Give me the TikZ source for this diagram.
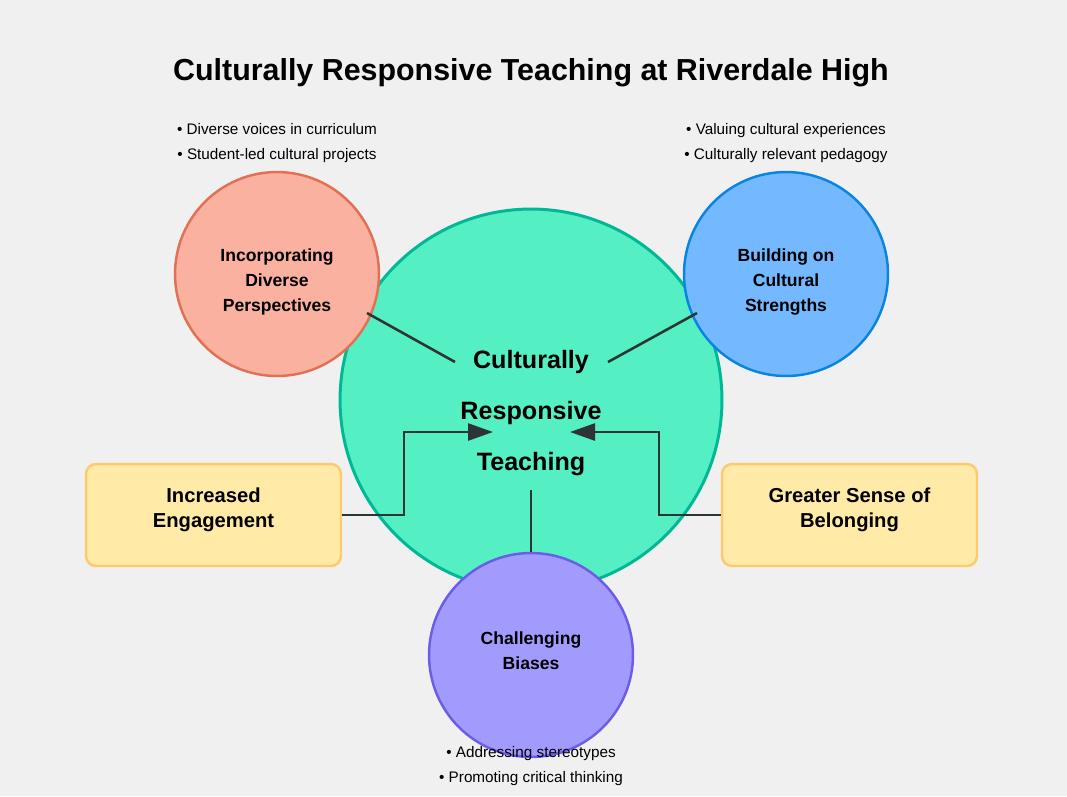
\documentclass[tikz,border=0pt]{standalone}
\usepackage{fontspec}
\setmainfont{Liberation Sans}
\usetikzlibrary{arrows.meta,calc,positioning}
\definecolor{cbg}{RGB}{240,240,240}
\definecolor{cline}{RGB}{45,52,54}
\definecolor{cmainf}{RGB}{85,239,196}
\definecolor{cmaind}{RGB}{0,184,148}
\definecolor{cpinkf}{RGB}{250,177,160}
\definecolor{cpinkd}{RGB}{225,112,85}
\definecolor{cbluef}{RGB}{116,185,255}
\definecolor{cblued}{RGB}{9,132,227}
\definecolor{cpurpf}{RGB}{162,155,254}
\definecolor{cpurpd}{RGB}{108,92,231}
\definecolor{cyelf}{RGB}{255,234,167}
\definecolor{cyeld}{RGB}{253,203,110}

\begin{document}
\begin{tikzpicture}[
  x=0.02cm, y=-0.02cm,
  >={Triangle[length=0.5cm,width=0.34cm]},
  conn/.style={cline,line width=1.45pt},
  hub/.style={circle,draw=cmaind,fill=cmainf,line width=1.7pt,minimum size=7.64cm,inner sep=0pt},
  spoke/.style={circle,line width=1.4pt,minimum size=4.08cm,inner sep=0pt},
  spoketext/.style={align=center,font=\bfseries\fontsize{10}{14.2}\selectfont},
  outcome/.style={rectangle,rounded corners=0.2cm,draw=cyeld,fill=cyelf,line width=1.4pt,minimum width=5.1cm,minimum height=2.04cm},
  outcometext/.style={align=center,font=\bfseries\fontsize{11.5}{14.2}\selectfont},
  notes/.style={align=center,font=\fontsize{8.7}{14.5}\selectfont},
]

% ============================ background and title ============================
\fill[cbg] (0,0) rectangle (1067,796);
\useasboundingbox (0,0) rectangle (1067,796);
\node[font=\bfseries\fontsize{17.3}{20}\selectfont] (title) at (531,73) {Culturally Responsive Teaching at Riverdale High};

% ============================ central hub ============================
\node[hub] (crt) at (531,400) {};
\node[align=center,font=\bfseries\fontsize{14.3}{29}\selectfont] (crtlabel) at (531,413) {Culturally\\Responsive\\Teaching};

% ============================ the three strategies ============================
\node[spoke,draw=cpinkd,fill=cpinkf] (diverse) at (277,274) {};
\node[spoke,draw=cblued,fill=cbluef] (strengths) at (786,274) {};
\node[spoke,draw=cpurpd,fill=cpurpf] (biases) at (531,655) {};
\node[spoketext] (diverselabel) at (277,282) {Incorporating\\Diverse\\Perspectives};
\node[spoketext] (strengthslabel) at (786,282) {Building on\\Cultural\\Strengths};
\node[spoketext] (biaseslabel) at (531,651) {Challenging\\Biases};

% bullet notes next to each strategy
\node[notes] (diversenotes) at (277,143) {• Diverse voices in curriculum\\• Student-led cultural projects};
\node[notes] (strengthsnotes) at (786,143) {• Valuing cultural experiences\\• Culturally relevant pedagogy};
\node[notes] (biasesnotes) at (531,766) {• Addressing stereotypes\\• Promoting critical thinking};

% ============================ the two outcomes ============================
\node[outcome] (engage) at (213.5,515) {};
\node[outcome] (belong) at (849.5,515) {};
\node[outcometext] (engagelabel) at (213.5,510) {Increased\\Engagement};
\node[outcometext] (belonglabel) at (849.5,510) {Greater Sense of\\Belonging};

% ============================ connectors ============================
\coordinate (diversestart) at (367,313);
\coordinate (diverseend) at (455,362);
\coordinate (strengthsstart) at (697,313);
\coordinate (strengthsend) at (608,362);
\coordinate (biasesend) at (531,490);
\coordinate (engagetip) at (493,432);
\coordinate (belongtip) at (570,432);

\draw[conn] (diversestart) -- (diverseend);
\draw[conn] (strengthsstart) -- (strengthsend);
\draw[conn] (biases.north) -- (biasesend);

% outcomes feed back into the hub
\draw[conn,->] (engage.east) -| (404,432) -- (engagetip);
\draw[conn,->] (belong.west) -| (659,432) -- (belongtip);

\end{tikzpicture}
\end{document}
